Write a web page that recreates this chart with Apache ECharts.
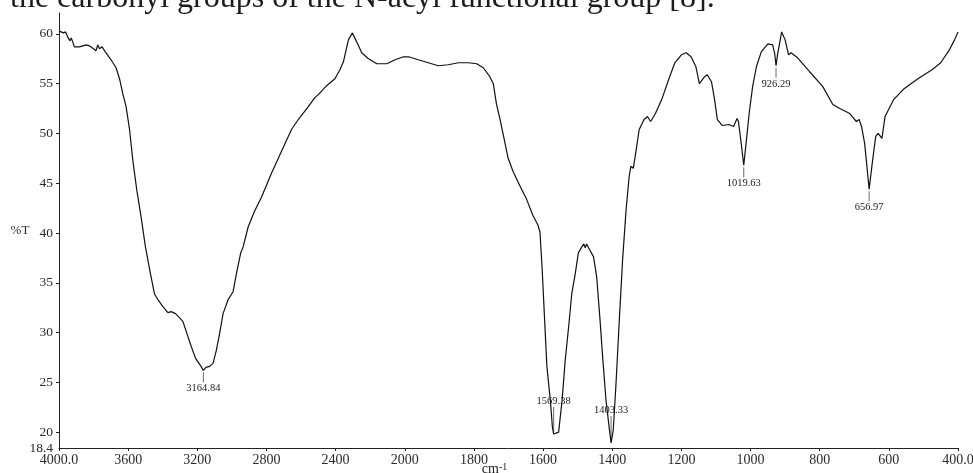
<!DOCTYPE html>
<html>
<head>
<meta charset="utf-8">
<title>FTIR spectrum</title>
<script src="https://cdn.jsdelivr.net/npm/echarts@6/dist/echarts.min.js"></script>
<style>
  html, body { margin: 0; padding: 0; background: #ffffff; }
  #chart { width: 973px; height: 473px; }
</style>
</head>
<body>
<div id="chart"></div>
<script>
// Transmittance trace (wavenumber in cm-1, %T), high to low wavenumber
const traceWavenumber = [
  4000, 3975, 3962, 3950, 3936, 3929, 3911, 3882, 3843, 3824, 3801, 3786, 3776, 3766, 3751, 3732,
  3699, 3670, 3650, 3631, 3612, 3592, 3573, 3550, 3525, 3500, 3472, 3448, 3428, 3399, 3370, 3351,
  3341, 3326, 3303, 3283, 3260, 3235, 3210, 3190, 3175,
  3150, 3140, 3129, 3109, 3090, 3071, 3051, 3022, 2993, 2974, 2949, 2935, 2906, 2871, 2829, 2771,
  2713, 2655, 2616, 2558, 2520, 2500, 2452, 2404, 2375, 2355, 2326, 2303, 2278, 2249, 2210, 2162,
  2104, 2056, 2008,
  1989, 1961, 1932, 1903, 1874, 1845, 1816, 1792, 1773, 1754, 1744, 1735, 1725, 1716, 1701, 1687,
  1668, 1649, 1630, 1615, 1609, 1603, 1596, 1589, 1579, 1573,
  1555, 1545, 1536, 1526, 1517, 1507, 1498, 1488, 1482, 1478, 1474, 1468, 1464, 1454, 1445, 1436,
  1427, 1418, 1408,
  1397, 1389, 1379, 1370, 1360, 1351, 1346, 1339, 1331, 1322, 1308, 1298, 1289, 1275, 1257, 1237,
  1219, 1200, 1186, 1172, 1158, 1148, 1143, 1133, 1125, 1113, 1104, 1096, 1082, 1063, 1049, 1039,
  1035, 1028,
  1012, 1004, 994, 983, 969, 950, 936, 930,
  922, 910, 900, 890, 883, 864, 829, 791, 762, 742, 713, 694, 686, 679, 670,
  647, 638, 631, 620, 611, 586, 556, 516, 475, 450, 425, 410, 400
];
const traceTransmittance = [
  60.3, 60.1, 60.2, 59.7, 59.3, 59.6, 58.7, 58.7, 58.9, 58.8, 58.5, 58.3, 58.9, 58.5, 58.7, 58.2,
  57.4, 56.6, 55.5, 54.0, 52.7, 50.4, 47.3, 44.3, 41.6, 38.6, 36.0, 33.9, 33.3, 32.6, 32.0, 32.1,
  31.9, 31.9, 31.5, 31.1, 29.9, 28.6, 27.4, 26.9, 26.5,
  26.5, 26.3, 26.6, 26.9, 28.2, 29.9, 31.9, 33.3, 34.1, 35.9, 38.0, 38.6, 40.6, 42.1, 43.6, 46.0,
  48.2, 50.4, 51.4, 52.7, 53.6, 53.9, 54.8, 55.5, 56.4, 57.2, 59.4, 60.1, 59.2, 58.1, 57.5, 57.0,
  57.0, 57.4, 57.7,
  57.7, 57.4, 57.1, 56.8, 56.9, 57.1, 57.1, 57.0, 56.6, 55.7, 55.0, 53.0, 51.5, 50.0, 47.5, 46.2,
  44.8, 43.5, 41.8, 40.8, 40.1, 36.6, 31.6, 26.6, 23.2, 20.5,
  20.0, 23.2, 27.2, 30.6, 33.9, 35.9, 38.0, 38.6, 38.9, 38.5, 38.9, 38.5, 38.4, 37.6, 35.6, 31.6,
  27.2, 23.2, 20.2,
  20.2, 24.9, 31.6, 37.3, 42.3, 45.7, 46.7, 46.5, 48.3, 50.4, 51.4, 51.7, 51.2, 52.0, 53.4, 55.4,
  57.1, 57.9, 58.1, 57.7, 56.7, 55.0, 54.8, 55.7, 55.9, 55.2, 53.4, 51.4, 50.8, 50.9, 50.7, 51.5,
  51.2, 49.3,
  49.3, 52.0, 54.7, 56.7, 58.2, 59.0, 58.9, 58.0,
  57.9, 60.2, 59.4, 57.9, 58.1, 57.6, 56.2, 54.7, 52.9, 52.5, 52.0, 51.2, 51.4, 50.7, 49.0,
  47.3, 49.7, 50.0, 49.5, 51.7, 53.4, 54.5, 55.5, 56.4, 57.1, 58.4, 59.4, 60.2
];

// Labelled absorption minima
const peakWavenumber = [3164.84, 1569.38, 1403.33, 1019.63, 926.29, 656.97];
const peakTransmittance = [26.2, 19.8, 18.9, 46.8, 56.8, 44.4];
const peakLabelAbove = [false, true, true, false, false, false];

// Axis ticks
const xTickValues = [4000, 3600, 3200, 2800, 2400, 2000, 1800, 1600, 1400, 1200, 1000, 800, 600, 400];
const xTickLabels = ['4000.0', '3600', '3200', '2800', '2400', '2000', '1800', '1600', '1400', '1200', '1000', '800', '600', '400.0'];
const yTickValues = [18.4, 20, 25, 30, 35, 40, 45, 50, 55, 60];
const yTickLabels = ['18.4', '20', '25', '30', '35', '40', '45', '50', '55', '60'];

const captionText = 'the carbonyl groups of the N-acyl functional group [8].';

// The abscissa switches scale at 2000 cm-1: above it, 400 cm-1 per division; below, 200 cm-1.
function toAxis(w) { return w <= 2000 ? w : 2000 + (w - 2000) / 2; }

const SERIF = '"Liberation Serif", "DejaVu Serif", serif';

// Merge trace and labelled minima into one ordered spectrum
const points = traceWavenumber.map((w, i) => [w, traceTransmittance[i]]);
peakWavenumber.forEach((w, i) => points.push([w, peakTransmittance[i]]));
points.sort((a, b) => b[0] - a[0]);
const spectrumData = points.map(p => [toAxis(p[0]), p[1]]);

const peakData = peakWavenumber.map((w, i) => [toAxis(w), peakTransmittance[i], peakLabelAbove[i] ? 1 : 0, w]);

const xLabelByAxis = {};
xTickValues.forEach((w, i) => { xLabelByAxis[toAxis(w)] = xTickLabels[i]; });
const yLabelByValue = {};
yTickValues.forEach((v, i) => { yLabelByValue[v] = yTickLabels[i]; });

const chart = echarts.init(document.getElementById('chart'), null, { renderer: 'canvas' });

chart.setOption({
  backgroundColor: '#ffffff',
  animation: false,
  grid: { left: 59, right: 15, top: 13, bottom: 25, containLabel: false, outerBoundsMode: 'none' },
  graphic: [{
    type: 'text',
    x: 10,
    y: -1,
    style: {
      text: captionText,
      font: '32px ' + SERIF,
      fill: '#1c1c1c',
      verticalAlign: 'middle',
      align: 'left'
    }
  }],
  xAxis: {
    type: 'value',
    inverse: true,
    min: toAxis(400),
    max: toAxis(4000),
    name: '{a|cm}{b|-1}',
    nameLocation: 'middle',
    nameGap: 14,
    nameMoveOverlap: false,
    nameTextStyle: {
      padding: [0, 28, 0, 0],
      rich: {
        a: { fontFamily: SERIF, fontSize: 14, color: '#222' },
        b: { fontFamily: SERIF, fontSize: 10, color: '#222', verticalAlign: 'top' }
      }
    },
    axisLine: { show: true, lineStyle: { color: '#222', width: 1 } },
    axisTick: { show: true, length: 3, customValues: xTickValues.map(toAxis), lineStyle: { color: '#222' } },
    axisLabel: {
      customValues: xTickValues.map(toAxis),
      formatter: v => xLabelByAxis[v] !== undefined ? xLabelByAxis[v] : '',
      fontFamily: SERIF,
      fontSize: 14,
      color: '#2a2a2a',
      margin: 5
    },
    splitLine: { show: false }
  },
  yAxis: {
    type: 'value',
    min: 18.4,
    max: 62.1,
    name: '%T',
    nameLocation: 'middle',
    nameRotate: 0,
    nameGap: 39,
    nameMoveOverlap: false,
    nameTextStyle: { fontFamily: SERIF, fontSize: 13, color: '#2a2a2a', align: 'center' },
    axisLine: { show: true, lineStyle: { color: '#222', width: 1 } },
    axisTick: { show: true, length: 3, customValues: yTickValues.slice(1), lineStyle: { color: '#222' } },
    axisLabel: {
      customValues: yTickValues,
      formatter: v => yLabelByValue[v] !== undefined ? yLabelByValue[v] : '',
      fontFamily: SERIF,
      fontSize: 13.5,
      color: '#2a2a2a',
      margin: 6,
      padding: [0, 0, 5, 0]
    },
    splitLine: { show: false }
  },
  series: [
    {
      type: 'line',
      data: spectrumData,
      showSymbol: false,
      symbol: 'none',
      smooth: false,
      silent: true,
      clip: false,
      lineStyle: { color: '#111111', width: 1.2 }
    },
    {
      type: 'custom',
      data: peakData,
      silent: true,
      clip: false,
      renderItem: function (params, api) {
        const p = api.coord([api.value(0), api.value(1)]);
        const above = api.value(2) === 1;
        const text = api.value(3).toFixed(2);
        const y1 = above ? p[1] - 2 : p[1] + 2;
        const y2 = above ? p[1] - 27 : p[1] + 12;
        const ty = above ? p[1] - 33 : p[1] + 18;
        return {
          type: 'group',
          children: [
            { type: 'line', shape: { x1: p[0], y1: y1, x2: p[0], y2: y2 }, style: { stroke: '#444', lineWidth: 0.8 } },
            { type: 'text', style: { text: text, x: p[0], y: ty, align: 'center', verticalAlign: 'middle', font: '10.5px ' + SERIF, fill: '#222' } }
          ]
        };
      }
    }
  ]
});
</script>
</body>
</html>
